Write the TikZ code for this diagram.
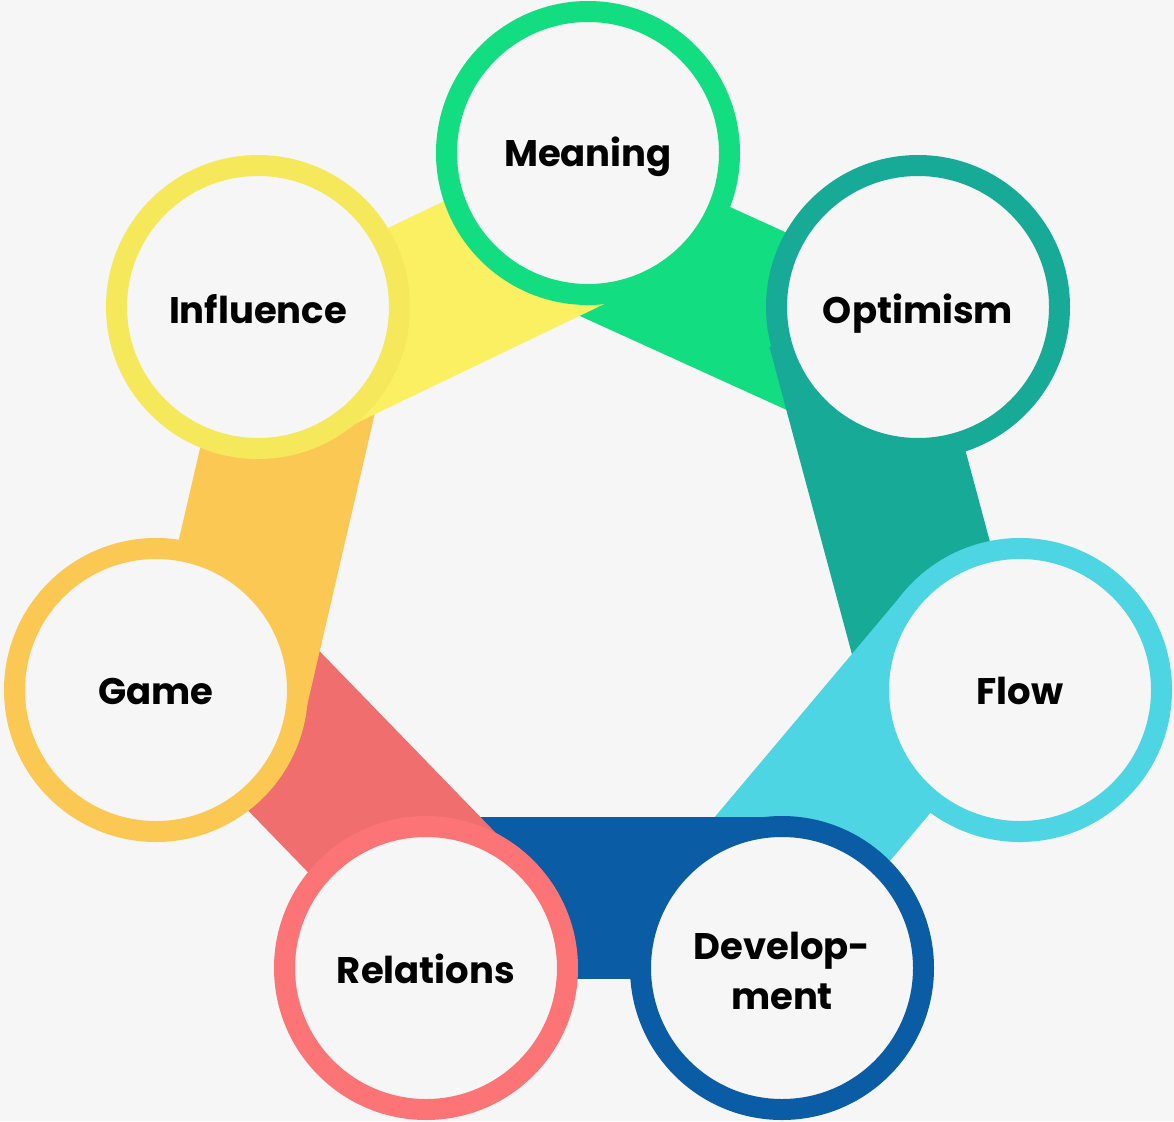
\documentclass[tikz,border=0pt]{standalone}
\usepackage{fontspec}
\setmainfont{Poppins}
\usetikzlibrary{calc}
\definecolor{bgc}{HTML}{F6F6F6}
\definecolor{cMeaning}{RGB}{18,221,128}
\definecolor{cOptimism}{RGB}{23,171,151}
\definecolor{cFlow}{RGB}{77,213,227}
\definecolor{cDevel}{RGB}{10,92,165}
\definecolor{cRelRing}{RGB}{252,116,117}
\definecolor{cRelBand}{RGB}{240,110,110}
\definecolor{cGame}{RGB}{252,200,84}
\definecolor{cInflRing}{RGB}{245,232,90}
\definecolor{cInflBand}{RGB}{251,239,98}
\tikzset{
  ringnode/.style={circle, fill=bgc, line width=21pt, minimum size=283pt, inner sep=0pt, outer sep=0pt},
  lbl/.style={font=\bfseries\fontsize{37}{50}\selectfont, text=black, inner sep=0pt, anchor=base},
  band/.style={draw=none}
}
\begin{document}
\begin{tikzpicture}[x=1pt,y=-1pt]
\useasboundingbox (0,0) rectangle (1174,1121);
\fill[bgc] (0,0) rectangle (1174,1121);
% circle centres
\coordinate (cM) at (588,153);
\coordinate (cO) at (918,307);
\coordinate (cF) at (1020,690);
\coordinate (cD) at (782,968);
\coordinate (cR) at (426,968);
\coordinate (cG) at (156,690);
\coordinate (cI) at (258,307);
% bands (connectors), each drawn over the previous one
\fill[band, cMeaning] ($(cM)+(4.0,-8.7)$) -- ($(cO)+(5.4,-12.1)$) -- ($(cO)+(-61.3,134.8)$) -- ($(cM)+(-62.8,138.1)$) -- cycle;
\fill[band, cOptimism] ($(cO)+(8.3,-2.2)$) -- ($(cF)+(9.1,-2.5)$) -- ($(cF)+(-147.8,39.7)$) -- ($(cO)+(-148.6,39.9)$) -- cycle;
\fill[band, cFlow] ($(cF)+(8.1,6.8)$) -- ($(cD)+(10.5,8.7)$) -- ($(cD)+(-113.7,-95.8)$) -- ($(cF)+(-116.1,-97.7)$) -- cycle;
\fill[band, cDevel] ($(cD)+(0,11)$) -- ($(cR)+(0,11)$) -- ($(cR)+(0,-151)$) -- ($(cD)+(0,-151)$) -- cycle;
\fill[band, cRelBand] ($(cR)+(-13,12.6)$) -- ($(cG)+(-12.8,12.3)$) -- ($(cG)+(103.6,-100.6)$) -- ($(cR)+(103.5,-100.3)$) -- cycle;
\fill[band, cGame] ($(cG)+(-11.4,-2.6)$) -- ($(cI)+(-23.9,-5.6)$) -- ($(cI)+(134.3,31.1)$) -- ($(cG)+(146.8,34.1)$) -- cycle;
\fill[band, cInflBand] ($(cI)+(-6.5,-13.4)$) -- ($(cM)+(-8.2,-17.1)$) -- ($(cM)+(61.9,129.1)$) -- ($(cI)+(63.8,132.7)$) -- cycle;
% circles
\node[ringnode, draw=cMeaning] (meaning) at (cM) {};
\node[ringnode, draw=cOptimism] (optimism) at (cO) {};
\node[ringnode, draw=cFlow] (flow) at (cF) {};
\node[ringnode, draw=cDevel] (development) at (cD) {};
\node[ringnode, draw=cRelRing] (relations) at (cR) {};
\node[ringnode, draw=cGame] (game) at (cG) {};
\node[ringnode, draw=cInflRing] (influence) at (cI) {};
% labels
\node[lbl] (tMeaning) at ($(cM)+(0,13.5)$) {Meaning};
\node[lbl] (tOptimism) at ($(cO)+(0,16)$) {Optimism};
\node[lbl] (tFlow) at ($(cF)+(0,14)$) {Flow};
\node[lbl, anchor=center, align=center] (tDevel) at ($(cD)+(0,2.5)$) {Develop-\\ment};
\node[lbl] (tRelations) at ($(cR)+(0,15.5)$) {Relations};
\node[lbl] (tGame) at ($(cG)+(0,14)$) {Game};
\node[lbl] (tInfluence) at ($(cI)+(0,16)$) {Influence};
\end{tikzpicture}
\end{document}
